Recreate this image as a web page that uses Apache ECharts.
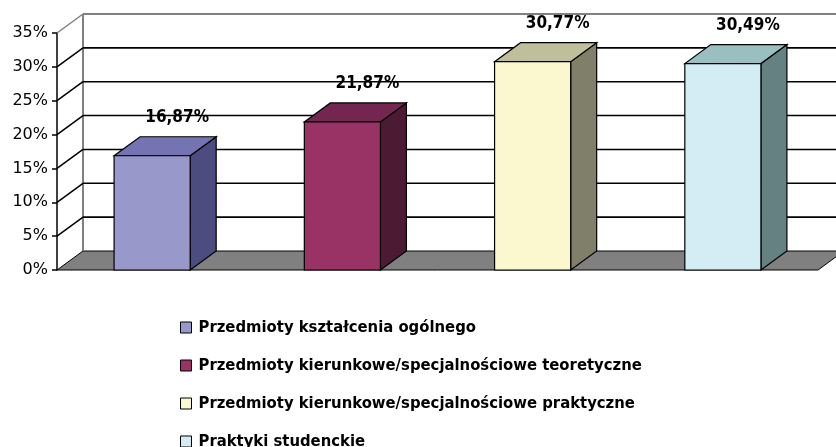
<!DOCTYPE html>
<html>
<head>
<meta charset="UTF-8">
<title>Struktura zajęć</title>
<script src="https://cdn.jsdelivr.net/npm/echarts@6/dist/echarts.min.js"></script>
<style>
  html, body { margin: 0; padding: 0; background: #fff; }
  #main { width: 836px; height: 447px; }
</style>
</head>
<body>
<div id="main"></div>
<script>
// dane
var categories = [
    'Przedmioty kształcenia ogólnego',
    'Przedmioty kierunkowe/specjalnościowe teoretyczne',
    'Przedmioty kierunkowe/specjalnościowe praktyczne',
    'Praktyki studenckie'
];
var values = [16.87, 21.87, 30.77, 30.49];
var yTicks = [0, 5, 10, 15, 20, 25, 30, 35];

// kolory scian slupkow: przod / gora / bok
var frontColors = ['#9898CB', '#993366', '#FBF8D0', '#D4ECF4'];
var topColors = ['#7474B2', '#732650', '#BFBF9B', '#99BFC0'];
var sideColors = ['#4C4C80', '#4D1A33', '#80806A', '#668182'];

var DX = 26, DY = -19;   // glebokosc efektu 3d
var yMax = yTicks[yTicks.length - 1];

function fmt(v) {
    return v.toFixed(2).replace('.', ',') + '%';
}

// tlo: sciany, podloga, linie siatki
function renderFrame(params, api) {
    var cs = params.coordSys;
    var v = api.value(1);
    var y = api.coord([0, v])[1];
    var xl = cs.x, xr = cs.x + cs.width;
    var col = v === yMax ? '#808080' : '#000';
    var children = [];
    if (v === 0) {
        var yTop = api.coord([0, yMax])[1];
        children.push({
            type: 'polygon',
            shape: { points: [[xl, y], [xr, y], [xr + DX, y + DY], [xl + DX, y + DY]] },
            style: { fill: '#808080', stroke: '#000', lineWidth: 1 }
        });
        children.push({
            type: 'line',
            shape: { x1: xl + DX, y1: y + DY, x2: xl + DX, y2: yTop + DY },
            style: { stroke: '#808080', lineWidth: 2 }
        });
    } else {
        children.push({
            type: 'line',
            shape: { x1: xl, y1: y, x2: xl + DX, y2: y + DY },
            style: { stroke: col, lineWidth: 1.5 }
        });
        children.push({
            type: 'line',
            shape: { x1: xl + DX, y1: y + DY, x2: xr + DX, y2: y + DY },
            style: { stroke: col, lineWidth: v === yMax ? 2 : 1.6 }
        });
    }
    return { type: 'group', children: children };
}

function makeBox(i) {
    return function (params, api) {
        var top = api.coord([api.value(0), api.value(1)]);
        var base = api.coord([api.value(0), 0]);
        var w = api.size([1, 0])[0] * 0.4;
        var x0 = top[0] - w / 2, x1 = top[0] + w / 2;
        var yt = top[1], yb = base[1];
        return {
            type: 'group',
            children: [
                {
                    type: 'polygon',
                    shape: { points: [[x1, yb], [x1 + DX, yb + DY], [x1 + DX, yt + DY], [x1, yt]] },
                    style: { fill: sideColors[i], stroke: '#000', lineWidth: 1.2 }
                },
                {
                    type: 'polygon',
                    shape: { points: [[x0, yt], [x1, yt], [x1 + DX, yt + DY], [x0 + DX, yt + DY]] },
                    style: { fill: topColors[i], stroke: '#000', lineWidth: 1.2 }
                },
                {
                    type: 'rect',
                    shape: { x: x0, y: yt, width: w, height: yb - yt },
                    style: { fill: frontColors[i], stroke: '#000', lineWidth: 1.2 }
                },
                {
                    type: 'text',
                    x: top[0] + 25,
                    y: yt - 38,
                    style: {
                        text: fmt(api.value(1)),
                        fill: '#000',
                        font: 'bold 17px "DejaVu Sans Condensed"',
                        align: 'center',
                        verticalAlign: 'middle'
                    }
                }
            ]
        };
    };
}

var series = [{
    name: 'frame',
    type: 'custom',
    renderItem: renderFrame,
    data: yTicks.map(function (v) { return [0, v]; }),
    clip: false,
    silent: true,
    z: 1
}];
for (var i = 0; i < categories.length; i++) {
    series.push({
        name: categories[i],
        type: 'custom',
        renderItem: makeBox(i),
        data: [[i, values[i]]],
        encode: { x: 0, y: 1 },
        itemStyle: { color: frontColors[i] },
        clip: false,
        z: 2
    });
}

var myChart = echarts.init(document.getElementById('main'));
var option = {
    animation: false,
    grid: { left: 57, right: 18, top: 33, bottom: 177 },
    xAxis: {
        type: 'category',
        data: categories,
        axisLine: { show: false },
        axisTick: { show: false },
        axisLabel: { show: false },
        splitLine: { show: false }
    },
    yAxis: {
        type: 'value',
        min: 0,
        max: yMax,
        interval: 5,
        axisLine: { show: true, lineStyle: { color: '#000', width: 1.5 } },
        axisTick: { show: true, length: 5, lineStyle: { color: '#000', width: 1.5 } },
        axisLabel: {
            formatter: '{value}%',
            color: '#000',
            fontSize: 16,
            fontFamily: 'DejaVu Sans',
            margin: 9
        },
        splitLine: { show: false }
    },
    legend: {
        orient: 'vertical',
        left: 180,
        top: 319,
        height: 200,
        padding: 0,
        itemWidth: 11,
        itemHeight: 11,
        itemGap: 21,
        icon: 'rect',
        data: categories,
        itemStyle: { borderColor: '#000', borderWidth: 1 },
        textStyle: {
            color: '#000',
            fontSize: 16.5,
            fontWeight: 'bold',
            fontFamily: 'DejaVu Sans Condensed',
            padding: [0, 0, 0, 2]
        }
    },
    series: series
};
myChart.setOption(option);
</script>
</body>
</html>
